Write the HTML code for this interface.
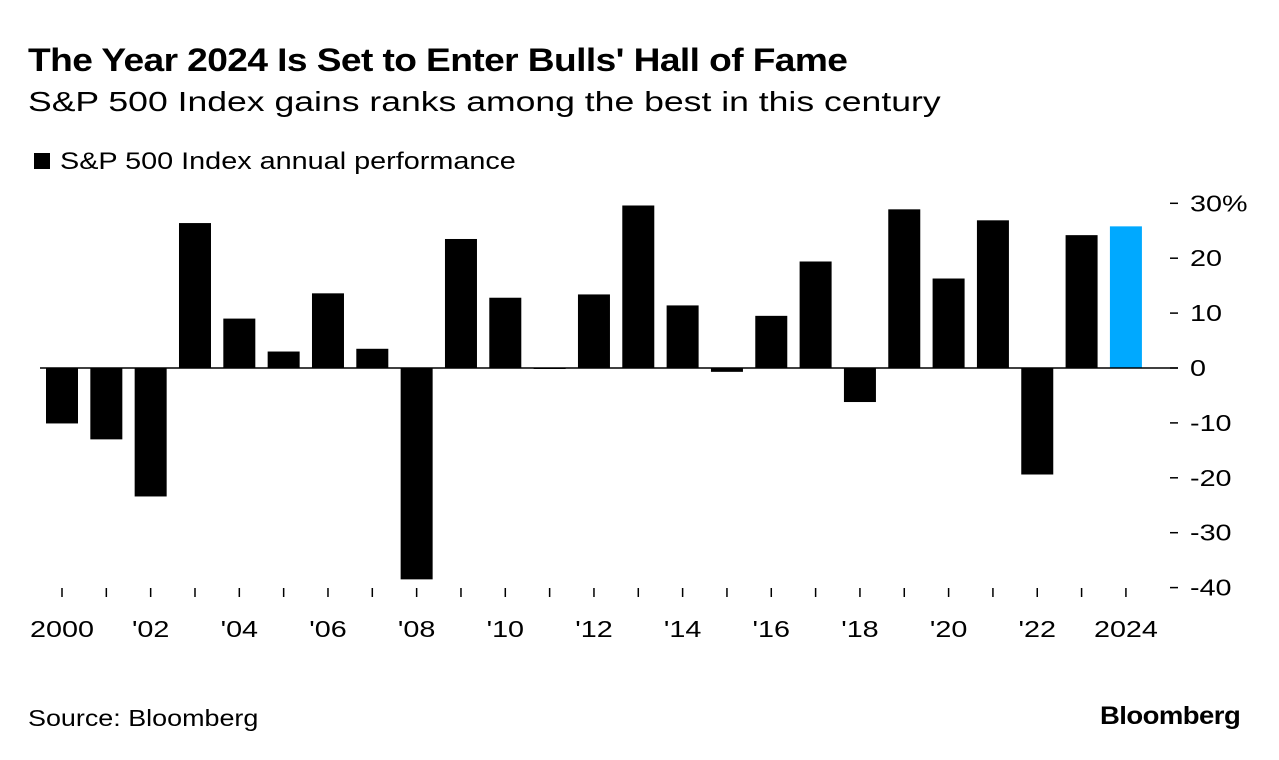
<!DOCTYPE html>
<html><head><meta charset="utf-8"><style>
body{margin:0;background:#fff;font-family:"Liberation Sans",sans-serif;color:#000}
#c{position:relative;width:1279px;height:760px;overflow:hidden}
.t{position:absolute;white-space:nowrap;transform-origin:0 0}
</style></head><body><div id="c">
<div class="t" style="left:28px;top:42px;font-size:32px;font-weight:bold;letter-spacing:-0.5px;transform:scaleX(1.16)">The Year 2024 Is Set to Enter Bulls' Hall of Fame</div>
<div class="t" style="left:28px;top:86px;font-size:28px;transform:scaleX(1.27)">S&amp;P 500 Index gains ranks among the best in this century</div>
<div class="t" style="left:34px;top:148px;font-size:24px"><span style="display:inline-block;width:16px;height:16px;background:#000;margin-right:10px"></span><span style="display:inline-block;transform:scaleX(1.2);transform-origin:0 0">S&amp;P 500 Index annual performance</span></div>
<svg id="s" width="1279" height="760" style="position:absolute;left:0;top:0"></svg>
<div class="t" style="left:28px;top:705px;font-size:23px;transform:scaleX(1.17)">Source: Bloomberg</div>
<div class="t" style="left:1100px;top:702px;font-size:25px;font-weight:bold;letter-spacing:-0.5px;transform:scaleX(1.1)">Bloomberg</div>
</div>
<script>
const years=[2000,2001,2002,2003,2004,2005,2006,2007,2008,2009,2010,2011,2012,2013,2014,2015,2016,2017,2018,2019,2020,2021,2022,2023,2024];
const values=[-10.1,-13.0,-23.4,26.4,9.0,3.0,13.6,3.5,-38.5,23.5,12.8,0.0,13.4,29.6,11.4,-0.7,9.5,19.4,-6.2,28.9,16.3,26.9,-19.4,24.2,25.8];
const yTicks=[30,20,10,0,-10,-20,-30,-40];
const yTickLabels=["30%","20","10","0","-10","-20","-30","-40"];
const xLabels={2000:"2000",2002:"'02",2004:"'04",2006:"'06",2008:"'08",2010:"'10",2012:"'12",2014:"'14",2016:"'16",2018:"'18",2020:"'20",2022:"'22",2024:"2024"};
const NS="http://www.w3.org/2000/svg",svg=document.getElementById('s');
const y=v=>368-v*5.49;
const x=yr=>62+(yr-2000)*44.33;
function mk(t,a){const e=document.createElementNS(NS,t);for(const k in a)e.setAttribute(k,a[k]);svg.appendChild(e);return e;}
years.forEach((yr,i)=>{const v=values[i];
 const r=mk('rect',{x:x(yr)-16,y:Math.min(y(v),y(0)),width:32,height:Math.max(Math.abs(y(v)-y(0)),1),fill:yr===2024?'#00a9ff':'#000'});
 
 
 const tk=mk('line',{x1:x(yr),x2:x(yr),y1:588,y2:597,stroke:'#000','stroke-width':1.5});
 
 
 if(xLabels[yr]){const t=mk('text',{transform:`translate(${x(yr)},637) scale(1.25,1)`,'text-anchor':'middle','font-size':23});t.textContent=xLabels[yr];
 
 }
});
const z=mk('line',{x1:40,x2:1178,y1:y(0),y2:y(0),stroke:'#000','stroke-width':1.5});


yTicks.forEach((v,i)=>{const l=mk('line',{x1:1170,x2:1178,y1:y(v),y2:y(v),stroke:'#000','stroke-width':1.5});
 
 
 const t=mk('text',{transform:`translate(1190,${y(v)+8}) scale(1.25,1)`,'font-size':23});t.textContent=yTickLabels[i];
 
 });
</script></body></html>
